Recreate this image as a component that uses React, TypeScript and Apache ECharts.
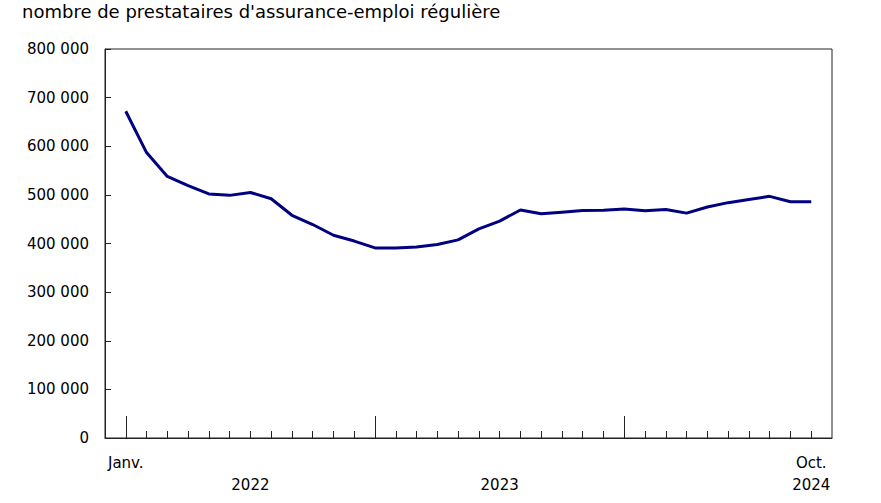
import React, { useEffect, useRef } from "react";
import * as echarts from "echarts";

const TITLE = "nombre de prestataires d'assurance-emploi régulière";

// Monthly values, January 2022 to October 2024
const months2022 = [672000, 587000, 538000, 519000, 502000, 499000, 505000, 492000, 458000, 439000, 417000, 405000];
const months2023 = [391000, 390500, 393000, 398000, 407500, 430000, 446000, 469000, 461000, 464500, 468000, 468500];
const months2024 = [471000, 467500, 470000, 462500, 475000, 484000, 490500, 497000, 486000, 486000];

const monthLabels: Record<number, string> = { 0: "Janv.", 33: "Oct." };
const yearLabels: Record<number, string> = { 6: "2022", 18: "2023", 33: "2024" };
const majorTicks = [0, 12, 24];

const values = [...months2022, ...months2023, ...months2024];

const FONT = "DejaVu Sans";

function fmt(v: number): string {
  return String(Math.round(v)).replace(/\B(?=(\d{3})+(?!\d))/g, " ");
}

export default function App() {
  const ref = useRef<HTMLDivElement>(null);
  useEffect(() => {
    if (!ref.current) return;
    const chart = echarts.init(ref.current, null, { renderer: "svg" });
    const minorTicks: number[] = [];
    for (let i = 1; i < values.length; i++) if (!majorTicks.includes(i)) minorTicks.push(i);
    const axisColor = "#222";
    chart.setOption({
      animation: false,
      backgroundColor: "#fff",
      title: {
        text: TITLE,
        left: 22,
        top: 2,
        padding: 0,
        textStyle: { fontFamily: FONT, fontSize: 18, fontWeight: "normal", color: "#000" },
      },
      grid: {
        left: 105,
        top: 49,
        width: 727,
        height: 389,
        show: true,
        borderColor: axisColor,
        borderWidth: 1,
        backgroundColor: "transparent",
      },
      xAxis: [
        {
          type: "value",
          min: -1,
          max: values.length,
          position: "bottom",
          axisLine: { show: true, onZero: false, lineStyle: { color: axisColor, width: 1 } },
          axisTick: { show: true, inside: true, length: 7, customValues: minorTicks, lineStyle: { color: axisColor } },
          axisLabel: {
            customValues: Object.keys(monthLabels).map(Number),
            formatter: (v: number) => monthLabels[v] ?? "",
            margin: 17,
            fontFamily: FONT,
            fontSize: 15,
            color: "#000",
          },
          splitLine: { show: false },
        },
        {
          type: "value",
          min: -1,
          max: values.length,
          position: "bottom",
          axisLine: { show: false, onZero: false },
          axisTick: { show: true, inside: true, length: 22, customValues: majorTicks, lineStyle: { color: axisColor } },
          axisLabel: {
            customValues: Object.keys(yearLabels).map(Number),
            formatter: (v: number) => yearLabels[v] ?? "",
            margin: 39,
            fontFamily: FONT,
            fontSize: 15,
            color: "#000",
          },
          splitLine: { show: false },
        },
      ],
      yAxis: {
        type: "value",
        min: 0,
        max: 800000,
        interval: 100000,
        axisLine: { show: true, onZero: false, lineStyle: { color: axisColor } },
        axisTick: { show: true, inside: true, length: 6, lineStyle: { color: axisColor } },
        axisLabel: {
          formatter: (v: number) => fmt(v),
          margin: 16,
          fontFamily: FONT,
          fontSize: 15,
          color: "#000",
        },
        splitLine: { show: false },
      },
      series: [
        {
          type: "line",
          xAxisIndex: 0,
          data: values.map((v, i) => [i, v]),
          symbol: "none",
          lineStyle: { color: "#000080", width: 3 },
        },
      ],
    });
    return () => chart.dispose();
  }, []);
  return <div ref={ref} style={{ position: "fixed", left: 0, top: 0, width: 881, height: 503 }} />;
}
